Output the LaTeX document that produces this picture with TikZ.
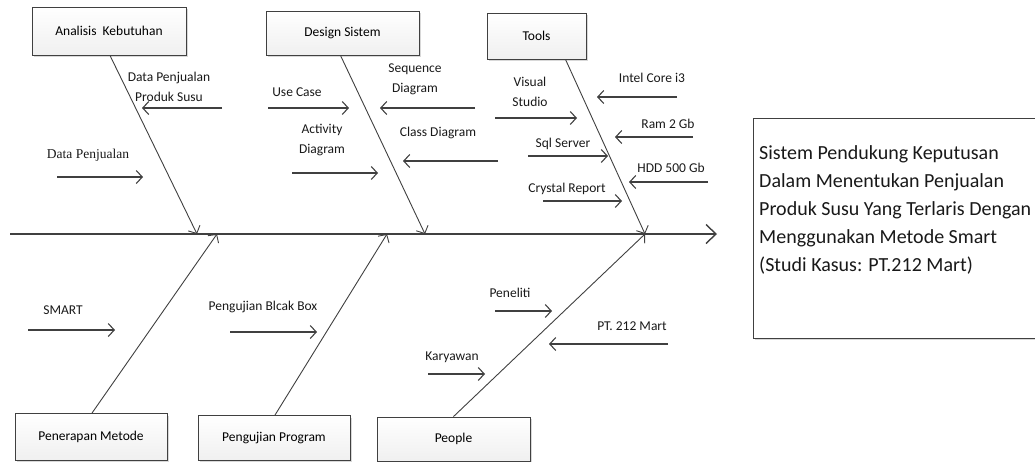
\documentclass[tikz,border=0pt]{standalone}
\usepackage{fontspec}
\setmainfont{Carlito}
\newfontfamily\timesfont{Liberation Serif}
\usetikzlibrary{arrows.meta,shadows}
\definecolor{linegray}{HTML}{404040}
\tikzset{
  fishbox/.style={draw=linegray, line width=0.9pt, top color=white, bottom color=gray!12,
    drop shadow={shadow xshift=2pt, shadow yshift=-2pt, fill=gray!60, opacity=.5},
    font=\fontsize{13.5}{15}\selectfont, inner sep=0pt},
  spine/.style={draw=linegray, line width=1.4pt, -{Straight Barb[length=10pt,width=19pt]}},
  bone/.style={draw=linegray, line width=0.9pt, -{Straight Barb[length=6pt,width=13pt]}},
  cause/.style={draw=linegray, line width=1.1pt, -{Straight Barb[length=6pt,width=13pt]}},
  lbl/.style={font=\fontsize{13.5}{20}\selectfont, align=center, inner sep=0pt, text=black!90},
  goaltext/.style={font=\fontsize{20}{28}\selectfont, align=left, inner sep=0pt, text=black!90}
}
\newcommand\causearrow[3]{%
  \coordinate (#1a) at #2;
  \coordinate (#1b) at #3;
  \draw[cause] (#1a) -- (#1b);}
\begin{document}
\begin{tikzpicture}[x=1pt,y=-1pt]
  \useasboundingbox (0,0) rectangle (1035,461);
  \clip (0,0) rectangle (1035,461);

  % category boxes
  \node[fishbox, minimum width=154pt, minimum height=48pt] (analisis) at (109,31) {Analisis\ \ Kebutuhan};
  \node[fishbox, minimum width=153pt, minimum height=44pt] (design) at (342.5,33) {Design Sistem};
  \node[fishbox, minimum width=99pt, minimum height=46pt] (tools) at (536.5,36) {Tools};
  \node[fishbox, minimum width=152pt, minimum height=47pt] (penerapan) at (91,437) {Penerapan Metode};
  \node[fishbox, minimum width=152pt, minimum height=45pt] (pengujian) at (274,438) {Pengujian Program};
  \node[fishbox, minimum width=153pt, minimum height=44pt] (people) at (453.5,439) {People};

  % goal box
  \node[draw=linegray, line width=0.9pt, fill=white, anchor=north west,
    minimum width=300pt, minimum height=220pt,
    drop shadow={shadow xshift=2pt, shadow yshift=-2pt, fill=gray!60, opacity=.5}] (goal) at (753,118) {};
  \node[goaltext, anchor=north west] (goaltxt) at (759,145) {Sistem Pendukung Keputusan\\Dalam Menentukan Penjualan\\Produk Susu Yang Terlaris Dengan\\Menggunakan Metode Smart\\(Studi Kasus: PT.212 Mart)};

  % spine
  \coordinate (tail) at (10,234);
  \coordinate (effect) at (717,234);
  \draw[spine] (tail) -- (effect);

  % bones
  \coordinate (h1) at (197,234);
  \coordinate (h2) at (425,234);
  \coordinate (h3) at (645,234);
  \coordinate (h4) at (217,234);
  \coordinate (h5) at (387,234);
  \coordinate (h6) at (645,234);
  \draw[bone] ([xshift=1pt]analisis.south) -- (h1);
  \draw[bone] ([xshift=-2pt]design.south) -- (h2);
  \draw[bone] ([xshift=29pt]tools.south) -- (h3);
  \draw[bone] ([xshift=1pt]penerapan.north) -- (h4);
  \draw[bone] ([xshift=1pt]pengujian.north) -- (h5);
  \draw[bone] (people.north) -- (h6);

  % Analisis Kebutuhan
  \node[lbl] (dpps) at (169,87) {Data Penjualan\\Produk Susu};
  \causearrow{dpps}{(222,108)}{(142,108)}
  \node[lbl, font=\timesfont\fontsize{13.5}{15}\selectfont] (dp) at (88,155) {Data Penjualan};
  \causearrow{dp}{(57,177)}{(143,177)}

  % Design Sistem
  \node[lbl] (usecase) at (297,92) {Use Case};
  \causearrow{usecase}{(268,108)}{(349,108)}
  \node[lbl] (activity) at (322,140) {Activity\\Diagram};
  \causearrow{activity}{(292,173)}{(378,173)}
  \node[lbl] (sequence) at (415,79) {Sequence\\Diagram};
  \causearrow{sequence}{(475,108)}{(380,108)}
  \node[lbl] (class) at (438,133) {Class Diagram};
  \causearrow{class}{(498,161)}{(403,161)}

  % Tools
  \node[lbl] (visual) at (530,92) {Visual\\Studio};
  \causearrow{visual}{(495,118)}{(577,118)}
  \node[lbl] (sql) at (563,144) {Sql Server};
  \causearrow{sql}{(528,156)}{(608,156)}
  \node[lbl] (crystal) at (567,189) {Crystal Report};
  \causearrow{crystal}{(543,201)}{(622,201)}
  \node[lbl] (intel) at (652,78) {Intel Core i3};
  \causearrow{intel}{(677,97)}{(597,97)}
  \node[lbl] (ram) at (668,124) {Ram 2 Gb};
  \causearrow{ram}{(693,137)}{(615,137)}
  \node[lbl] (hdd) at (671,168) {HDD 500 Gb};
  \causearrow{hdd}{(708,182)}{(629,182)}

  % Penerapan Metode, Pengujian Program
  \node[lbl] (smart) at (63,310) {SMART};
  \causearrow{smart}{(28,330)}{(115,330)}
  \node[lbl] (blackbox) at (263,307) {Pengujian Blcak Box};
  \causearrow{blackbox}{(230,332)}{(317,332)}

  % People
  \node[lbl] (peneliti) at (510,293) {Peneliti};
  \causearrow{peneliti}{(495,311)}{(552,311)}
  \node[lbl] (mart) at (632,326) {PT. 212 Mart};
  \causearrow{mart}{(668,344)}{(549,344)}
  \node[lbl] (karyawan) at (452,357) {Karyawan};
  \causearrow{karyawan}{(428,374)}{(485,374)}
\end{tikzpicture}
\end{document}
